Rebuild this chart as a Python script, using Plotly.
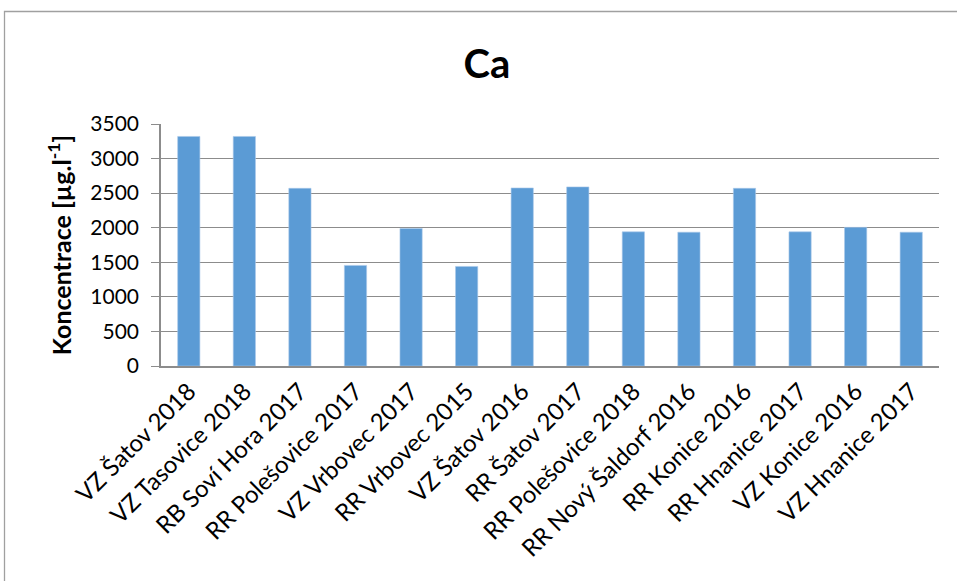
import plotly.graph_objects as go

# Sampling sites and measured calcium concentrations
sites = [
    "VZ Šatov 2018", "VZ Tasovice 2018", "RB Soví Hora 2017", "RR Polešovice 2017",
    "VZ Vrbovec 2017", "RR Vrbovec 2015", "VZ Šatov 2016", "RR Šatov 2017",
    "RR Polešovice 2018", "RR Nový Šaldorf 2016", "RR Konice 2016", "RR Hnanice 2017",
    "VZ Konice 2016", "VZ Hnanice 2017",
]
ca_values = [3320, 3320, 2570, 1455, 1990, 1440, 2575, 2590, 1940, 1935, 2570, 1940, 2005, 1935]
y_ticks = [0, 500, 1000, 1500, 2000, 2500, 3000, 3500]

FONT = "Lato, 'Open Sans', sans-serif"
GRID = "#8c8c8c"

fig = go.Figure(
    go.Bar(
        x=sites,
        y=ca_values,
        marker=dict(color="#5b9bd5", line=dict(color="#a9c8ea", width=0.6)),
        width=0.4,
    )
)

W, H = 957, 581
L, R, T, B = 161, 18, 124, 215
pw, ph = W - L - R, H - T - B

def px_x(p):
    return (p - L) / pw

def px_y(p):
    return (H - B - p) / ph

fig.update_layout(
    width=W,
    height=H,
    margin=dict(l=L, r=R, t=T, b=B),
    paper_bgcolor="white",
    plot_bgcolor="white",
    showlegend=False,
    font=dict(family=FONT, color="black"),
    title=dict(
        text="<b>Ca</b>",
        xref="container",
        yref="container",
        x=487 / W,
        xanchor="center",
        y=1 - 64 / H,
        yanchor="middle",
        font=dict(size=40, family=FONT, color="black"),
    ),
    xaxis=dict(
        tickangle=-45,
        tickfont=dict(size=24, family=FONT),
        showline=True,
        linecolor=GRID,
        linewidth=1.5,
        ticks="",
        showgrid=False,
    ),
    yaxis=dict(
        range=[0, 3500],
        tickvals=y_ticks,
        tickfont=dict(size=21, family=FONT),
        ticklabelstandoff=8,
        showgrid=True,
        gridcolor=GRID,
        gridwidth=1.2,
        showline=True,
        linecolor=GRID,
        linewidth=1.5,
        ticks="outside",
        ticklen=8,
        tickcolor=GRID,
        zeroline=False,
        title=dict(
            text="<b>Koncentrace [µg.l<sup>-1</sup>]</b>",
            font=dict(size=25, family=FONT),
            standoff=12,
        ),
    ),
    shapes=[
        dict(
            type="rect",
            xref="paper",
            yref="paper",
            x0=px_x(4.5),
            x1=px_x(965),
            y0=px_y(590),
            y1=px_y(11.5),
            line=dict(color="#a0a0a0", width=1.3),
            fillcolor="rgba(0,0,0,0)",
            layer="below",
        )
    ],
)

fig.write_html("out.html")
